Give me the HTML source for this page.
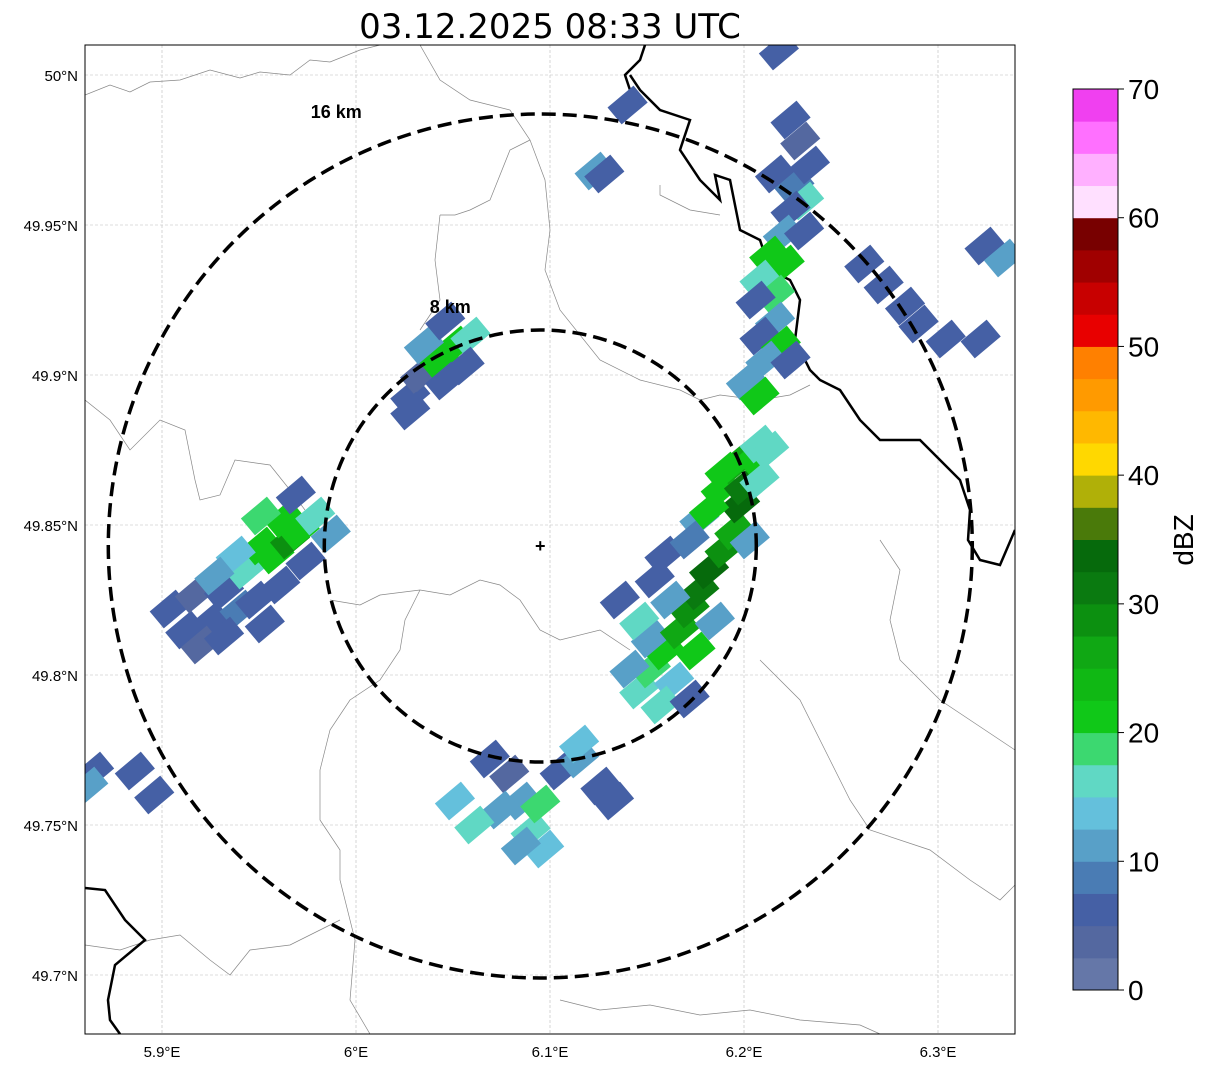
<!DOCTYPE html>
<html><head><meta charset="utf-8"><style>
body{margin:0;background:#fff;font-family:"Liberation Sans",sans-serif}
</style></head><body>
<svg id="svg" width="1207" height="1069" viewBox="0 0 1207 1069" xmlns="http://www.w3.org/2000/svg">
<text x="550" y="38" font-size="34" text-anchor="middle" font-family="DejaVu Sans">03.12.2025 08:33 UTC</text>
<defs><clipPath id="mapclip"><rect x="85" y="45" width="930" height="989"/></clipPath></defs>
<g id="grid"></g>
<g clip-path="url(#mapclip)">
<g fill="none">
<path d="M85,95 L110,85 L130,92 L150,82 L180,80 L210,70 L240,78 L260,72 L290,75 L310,60 L330,62 L360,50 L380,45" stroke="#888" stroke-width="0.7"/>
<path d="M420,45 L440,80 L470,100 L510,110 L530,140 L545,180 L550,230 L545,270 L560,310 L600,360 L640,380 L680,390 L700,400 L720,395 L760,400 L790,395 L810,385" stroke="#888" stroke-width="0.7"/>
<path d="M440,215 L435,260 L440,300 L420,330" stroke="#888" stroke-width="0.7"/>
<path d="M530,140 L510,150 L490,200 L470,210 L455,215 L440,215" stroke="#888" stroke-width="0.7"/>
<path d="M85,400 L110,420 L130,450 L160,420 L185,430 L195,480 L200,500 L220,495 L235,460 L270,465 L290,490 L305,510" stroke="#888" stroke-width="0.7"/>
<path d="M330,600 L360,605 L380,595 L420,590 L450,595 L480,580 L500,585 L520,600 L540,630 L560,640 L600,630 L630,650" stroke="#888" stroke-width="0.7"/>
<path d="M420,590 L405,620 L400,650 L380,680 L350,700 L330,730 L320,770 L320,820 L340,850 L340,880 L355,940 L350,1000 L370,1034" stroke="#888" stroke-width="0.7"/>
<path d="M85,945 L120,950 L150,940 L180,935 L210,960 L230,975 L250,950 L290,945 L320,930 L340,920" stroke="#888" stroke-width="0.7"/>
<path d="M560,1000 L600,1010 L650,1005 L700,1015 L750,1010 L800,1020 L860,1025 L880,1034" stroke="#888" stroke-width="0.7"/>
<path d="M760,660 L800,700 L830,760 L850,800 L870,830 L930,850 L970,880 L1000,900 L1015,885" stroke="#888" stroke-width="0.7"/>
<path d="M880,540 L900,570 L890,620 L900,660 L940,700 L970,720 L1015,750" stroke="#888" stroke-width="0.7"/>
<path d="M660,185 L660,195 L690,210 L720,215" stroke="#888" stroke-width="0.7"/>
<path d="M630,75 L640,90 L660,110 L690,120 L680,150 L700,180 L720,200 L715,175 L730,180 L740,230 L760,240 L770,270 L790,280 L800,300 L795,340 L810,370 L820,380 L840,390 L860,420 L880,440 L920,440 L940,460 L960,480 L970,510 L968,540 L980,560 L1000,565 L1015,530" stroke="#000" stroke-width="2.5"/>
<path d="M645,45 L640,60 L625,75 L630,90" stroke="#000" stroke-width="2.5"/>
<path d="M85,888 L105,890 L125,920 L145,940 L115,965 L108,1000 L110,1020 L120,1034" stroke="#000" stroke-width="2.5"/>
</g>
<g id="cells"></g>
</g>
<rect x="85" y="45" width="930" height="989" fill="none" stroke="#000" stroke-width="1"/>
<g id="rings"></g>
<g id="axes"></g>
<g id="cbar"></g>
</svg>
<script>
const NS='http://www.w3.org/2000/svg';
const lonTicks=[5.9,6.0,6.1,6.2,6.3];
const lonLabels=['5.9°E','6°E','6.1°E','6.2°E','6.3°E'];
const latTicks=[50.0,49.95,49.9,49.85,49.8,49.75,49.7];
const latLabels=['50°N','49.95°N','49.9°N','49.85°N','49.8°N','49.75°N','49.7°N'];
const ringKm=[8,16];
const ringLabels=['8 km','16 km'];
const center=[6.095,49.843];
const cbTicks=[0,10,20,30,40,50,60,70];
const cbColors=['#6577a8','#5468a0','#4560a5','#4a7cb4','#58a0c8','#64c0dc','#60d8c4','#3cd870','#10c818','#10b814','#10a814','#0c9010','#0a7a10','#066a0c','#4a7a0a','#b0b008','#ffd800','#ffb800','#ff9a00','#ff8000','#e80000','#c80000','#a00000','#780000','#ffe0ff','#ffb0ff','#ff70ff','#f040f0'];
const cellLon=[5.904,5.912,5.917,5.925,5.920,5.932,5.940,5.932,5.948,5.953,5.943,5.951,5.958,5.966,5.963,5.971,5.974,5.979,5.951,5.938,5.969,5.987,5.961,5.927,
6.028,6.033,6.043,6.051,6.059,6.046,6.056,6.035,6.028,6.046,
6.146,6.152,6.141,6.159,6.152,6.167,6.172,6.177,6.162,6.154,6.159,6.182,6.190,6.195,6.198,6.188,6.200,6.195,6.206,6.208,6.177,6.172,6.203,6.185,6.175,6.164,6.157,6.136,6.146,6.182,6.190,6.208,6.213,6.172,
6.069,6.079,6.085,6.074,6.061,6.051,6.090,6.097,6.085,6.105,6.115,6.126,6.133,6.115,6.095,
6.224,6.229,6.216,6.226,6.231,6.224,6.220,6.231,6.213,6.221,6.208,6.216,6.206,6.216,6.208,6.219,6.211,6.224,6.201,6.208,6.234,
6.262,6.272,6.283,6.290,6.324,6.334,6.322,6.304,
6.218,6.123,6.128,6.140,
5.865,5.886,5.896,5.862];
const cellLat=[49.822,49.815,49.827,49.818,49.810,49.828,49.822,49.813,49.825,49.817,49.835,49.843,49.840,49.845,49.852,49.848,49.838,49.853,49.853,49.840,49.860,49.847,49.830,49.833,
49.893,49.900,49.905,49.910,49.913,49.898,49.903,49.910,49.888,49.918,
49.795,49.802,49.802,49.808,49.812,49.815,49.822,49.828,49.825,49.832,49.840,49.835,49.842,49.848,49.857,49.862,49.863,49.870,49.873,49.877,49.852,49.845,49.845,49.818,49.808,49.798,49.790,49.825,49.818,49.855,49.868,49.865,49.875,49.792,
49.772,49.767,49.758,49.755,49.750,49.758,49.748,49.742,49.743,49.768,49.772,49.763,49.758,49.777,49.757,
49.985,49.978,49.967,49.963,49.958,49.955,49.947,49.948,49.940,49.937,49.932,49.927,49.925,49.918,49.913,49.910,49.905,49.905,49.898,49.893,49.970,
49.937,49.930,49.923,49.917,49.943,49.939,49.912,49.912,
50.008,49.968,49.967,49.990,
49.768,49.768,49.760,49.763];
const cellDbz=[5,5,3,5,3,7,8,5,5,5,17,20,22,28,22,20,5,15,18,14,5,10,5,12,
5,3,20,22,17,5,7,12,5,5,
17,18,10,20,12,25,28,30,10,5,5,33,28,25,33,22,30,25,22,17,12,8,12,12,20,14,15,5,15,20,20,15,15,5,
5,3,10,12,17,13,15,14,12,5,12,5,5,14,18,
5,3,5,8,15,5,12,5,20,22,15,18,5,12,5,20,12,5,10,20,5,
5,5,5,5,5,10,5,5,
5,10,5,5,
5,5,5,12];

function X(lon){return 356+(lon-6.0)*1940;}
function Y(lat){return 525-(lat-49.85)*3000;}
function col(v){return cbColors[Math.max(0,Math.min(27,Math.floor(v/2.5)))];}
function mk(tag,attrs,parent){const e=document.createElementNS(NS,tag);for(const k in attrs)e.setAttribute(k,attrs[k]);parent.appendChild(e);return e;}
const grid=document.getElementById('grid'),axes=document.getElementById('axes');
lonTicks.forEach((t,i)=>{
 const l=mk('line',{x1:X(t),x2:X(t),y1:45,y2:1034,stroke:'#bbb','stroke-width':0.6,'stroke-dasharray':'3,2'},grid);
 
 const tx=mk('text',{x:X(t),y:1057,'font-size':15,'text-anchor':'middle'},axes);tx.textContent=lonLabels[i];
 
});
latTicks.forEach((t,i)=>{
 const l=mk('line',{x1:85,x2:1015,y1:Y(t),y2:Y(t),stroke:'#bbb','stroke-width':0.6,'stroke-dasharray':'3,2'},grid);
 
 const tx=mk('text',{x:78,y:Y(t)+6,'font-size':15,'text-anchor':'end'},axes);tx.textContent=latLabels[i];
 
});
const cells=document.getElementById('cells');
for(let i=0;i<cellLon.length;i++){
 const x=X(cellLon[i]),y=Y(cellLat[i]);
 const r=mk('rect',{x:x-17,y:y-11,width:34,height:22,fill:col(cellDbz[i]),transform:`rotate(-40 ${x} ${y})`},cells);
 
}
const rings=document.getElementById('rings');
const cx=X(center[0]),cy=Y(center[1]);
ringKm.forEach((k,i)=>{
 const rr=k*27;
 const c=mk('ellipse',{cx:cx,cy:cy,rx:rr,ry:rr,fill:'none',stroke:'#000','stroke-width':3.5,'stroke-dasharray':'14,7'},rings);
 
 const t=mk('text',{x:cx-(i===0?90:204),y:cy-rr-(i===0?17:-4),'font-size':18,'font-weight':'bold','text-anchor':'middle'},rings);
 t.textContent=ringLabels[i];
 
});
const pl=mk('text',{x:cx,y:cy+6,'font-size':18,'font-weight':'bold','text-anchor':'middle'},rings);pl.textContent='+';

const cb=document.getElementById('cbar');
const cbTop=89,cbBot=990,cbH=cbBot-cbTop;
cbColors.forEach((c,i)=>{
 const y0=cbBot-(i+1)*2.5/70*cbH;
 const r=mk('rect',{x:1073,y:y0,width:45,height:cbH*2.5/70+0.5,fill:c},cb);
 
});
mk('rect',{x:1073,y:cbTop,width:45,height:cbH,fill:'none',stroke:'#000','stroke-width':1},cb);
cbTicks.forEach(t=>{
 const y=cbBot-t/70*cbH;
 mk('line',{x1:1118,x2:1124,y1:y,y2:y,stroke:'#000'},cb);
 const tx=mk('text',{x:1128,y:y+10,'font-size':28},cb);tx.textContent=t;
 
});
const cl=mk('text',{x:0,y:0,'font-size':28,'text-anchor':'middle',transform:'translate(1193 540) rotate(-90)'},cb);cl.textContent='dBZ';

</script>
</body></html>
